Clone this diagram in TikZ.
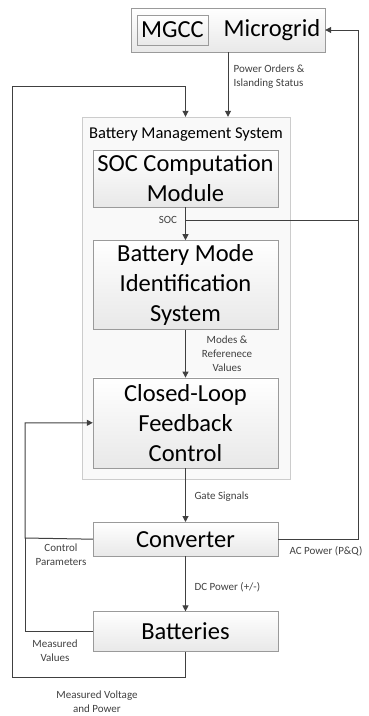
\documentclass[tikz,border=0pt]{standalone}
\usepackage{fontspec}
\setmainfont{Carlito}
\usetikzlibrary{arrows.meta, positioning}
\definecolor{linegray}{HTML}{404040}
\definecolor{boxline}{HTML}{9A9A9A}

\begin{document}
\begin{tikzpicture}[x=1pt, y=-1pt, >={Triangle[length=6pt,width=6pt]},
    blk/.style={draw=boxline, top color=white, bottom color=gray!18, minimum width=185pt,
      font=\fontsize{24.5}{30}\selectfont, align=center, inner sep=0pt},
    lbl/.style={font=\fontsize{11}{14}\selectfont, text=black!75, align=center},
    wire/.style={draw=linegray, line width=1pt}]
        \useasboundingbox (0,0) rectangle (369,716);
        % microgrid on top
        \node (mg) [blk, minimum width=194pt, minimum height=44pt] at (228,30) {};
        \node (mgcc) [blk, minimum width=71pt, minimum height=30pt] at (172.5,30) {MGCC};
        \node (mgtxt) [font=\fontsize{24.5}{30}\selectfont] at (272,30) {Microgrid};
        % battery management system
        \node (bms) [draw=gray!40, fill=gray!5, minimum width=208pt, minimum height=362pt] at (186,298) {};
        \node (bmstitle) [font=\fontsize{16.5}{19}\selectfont] at (186,135) {Battery Management System};
        \node (soc) [blk, minimum height=57pt] at (185.5,178.5) {SOC Computation\\Module};
        \node (bmis) [blk, minimum height=89pt, below=33pt of soc] {Battery Mode\\Identification\\System};
        \node (cl) [blk, minimum height=90pt, below=48pt of bmis] {Closed-Loop\\Feedback\\Control};
        \node (conv) [blk, minimum height=34pt, below=54pt of cl] {Converter};
        \node (bat) [blk, minimum height=40pt, below=55pt of conv] {Batteries};
        \coordinate (rt) at (358,30);
        \coordinate (lt) at (12,677);
        \coordinate (cp) at (25,538);

        \draw[wire,->] (mg.south) -- (mg.south |- bms.north);
        \node (po) [lbl, align=left, anchor=west] at (230,77) {Power Orders \&\\Islanding Status};
        \draw[wire,->] (soc.south) -- (bmis.north);
        \node (soclbl) [lbl] at (168,220) {SOC};
        \draw[wire,->] (soc.south |- 0,220) -| (rt) -- (mg.east);
        \draw[wire,->] (bmis.south) -- (cl.north);
        \node (modes) [lbl] at (227,354) {Modes \&\\Referenece\\Values};
        \draw[wire,->] (cl.south) -- (conv.north);
        \node (gate) [lbl, anchor=west] at (191,497) {Gate Signals};
        \draw[wire] (conv.east) -| (358,220);
        \node (ac) [lbl, anchor=west] at (286,551) {AC Power (P\&Q)};
        \draw[wire,->] (conv.south) -- (bat.north);
        \node (dc) [lbl, anchor=west] at (191,587) {DC Power (+/-)};
        \draw[wire,->] (conv.west) -- (cp) |- (cl.west);
        \node (ctrl) [lbl] at (61,555) {Control\\Parameters};
        \draw[wire] (bat.west) -| (cp);
        \node (meas) [lbl] at (55,651) {Measured\\Values};
        \draw[wire,->] (bat.south) -- (bat.south |- lt) -| (12,86) -| (soc.north |- bms.north);
        \node (mvp) [lbl] at (97,702) {Measured Voltage\\and Power};
      \end{tikzpicture}
\end{document}
